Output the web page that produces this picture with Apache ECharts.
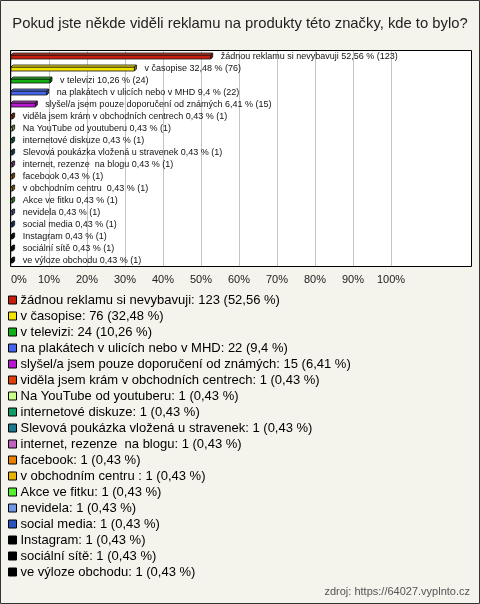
<!DOCTYPE html>
<html><head><meta charset="utf-8">
<script src="https://cdn.jsdelivr.net/npm/echarts@6/dist/echarts.min.js"></script>
<style>html,body{margin:0;padding:0;background:#f4f3ec}#c{width:480px;height:604px}</style>
</head><body><div id="c"></div>
<script>
const titleText = 'Pokud jste někde viděli reklamu na produkty této značky, kde to bylo?';
const categories = ['žádnou reklamu si nevybavuji','v časopise','v televizi','na plakátech v ulicích nebo v MHD','slyšel/a jsem pouze doporučení od známých','viděla jsem krám v obchodních centrech','Na YouTube od youtuberu','internetové diskuze','Slevová poukázka vložená u stravenek','internet, rezenze  na blogu','facebook','v obchodním centru ','Akce ve fitku','nevidela','social media','Instagram','sociální sítě','ve výloze obchodu'];
const counts = [123,76,24,22,15,1,1,1,1,1,1,1,1,1,1,1,1,1];
const percents = [52.56,32.48,10.26,9.4,6.41,0.43,0.43,0.43,0.43,0.43,0.43,0.43,0.43,0.43,0.43,0.43,0.43,0.43];
const percentLabels = ['52,56','32,48','10,26','9,4','6,41','0,43','0,43','0,43','0,43','0,43','0,43','0,43','0,43','0,43','0,43','0,43','0,43','0,43'];
const colors = ['#c61f0e','#f2e400','#12b012','#4466ee','#b818d0','#e0400c','#ccff88','#139a63','#1c7a90','#c062c0','#e88000','#e8b400','#55ee33','#6e98e4','#2a54c0','#000000','#000000','#000000'];
const xTicks = [0,10,20,30,40,50,60,70,80,90,100];
const sourceText = 'zdroj: https://64027.vyplnto.cz';

const FONT = '"Liberation Sans", Arial, sans-serif';
function shade(hex, f){
  const n = parseInt(hex.slice(1),16);
  let r=(n>>16)&255,g=(n>>8)&255,b=n&255;
  const m = v => Math.max(0,Math.min(255,Math.round(f<1 ? v*f : v+(255-v)*(f-1))));
  return 'rgb('+m(r)+','+m(g)+','+m(b)+')';
}
function renderItem(params, api){
  const v = api.value(0), idx = api.value(1);
  const p0 = api.coord([0, idx]), p1 = api.coord([v, idx]);
  const x0 = p0[0], x1 = p1[0], yc = p0[1];
  const d = 2, top = yc - 1, bot = yc + 3;
  const col = api.visual('color');
  const stroke = '#111';
  const i = params.seriesIndex;
  return {type:'group', children:[
    {type:'rect', shape:{x:x0,y:top,width:Math.max(x1-x0,0.5),height:bot-top}, style:{fill:col,stroke:stroke,lineWidth:0.8}},
    {type:'polygon', shape:{points:[[x0,top],[x0+d,top-d],[x1+d,top-d],[x1,top]]}, style:{fill:shade(col,1.12),stroke:stroke,lineWidth:0.8}},
    {type:'polygon', shape:{points:[[x1,top],[x1+d,top-d],[x1+d,bot-d],[x1,bot]]}, style:{fill:shade(col,0.6),stroke:stroke,lineWidth:0.8}},
    {type:'text', style:{x:x1+10,y:yc+0.5,text:categories[i]+' '+percentLabels[i]+' % ('+counts[i]+')',fill:'#111',font:'9px '+FONT,verticalAlign:'middle',align:'left'}}
  ]};
}
const series = categories.map((c,i)=>({
  name:c, type:'custom', renderItem, itemStyle:{color:colors[i]},
  encode:{x:0,y:1}, data:[[percents[i], i]], silent:true, clip:false
}));
const chart = echarts.init(document.getElementById('c'), null, {renderer:'canvas'});
chart.setOption({
  backgroundColor:'#f4f3ec',
  animation:false,
  title:{text:titleText,left:'center',top:11,textStyle:{fontSize:14.8,fontWeight:'normal',color:'#222',fontFamily:FONT}},
  grid:{left:11,top:50,width:380,height:216},
  xAxis:{type:'value',min:0,max:100,interval:10,
    axisLine:{show:false},axisTick:{show:false},
    splitLine:{show:true,lineStyle:{color:'#c4c4c4',width:1}},
    axisLabel:{formatter:v=>xTicks.includes(v)?v+'%':'',fontSize:11,color:'#222',fontFamily:FONT,margin:8,alignMinLabel:'left'}},
  yAxis:{type:'category',data:categories,inverse:true,show:false},
  legend:{orient:'vertical',left:8,top:292,padding:0,itemWidth:8,itemHeight:8,itemGap:0,icon:'rect',
    itemStyle:{borderColor:'#000',borderWidth:1},
    textStyle:{fontSize:13,color:'#000',fontFamily:FONT,lineHeight:16,padding:[0,0,0,-1]},
    selectedMode:false,data:categories,
    formatter:name=>{const i=categories.indexOf(name);return name+': '+counts[i]+' ('+percentLabels[i]+' %)';}},
  graphic:[
    {type:'rect',z:-10,silent:true,shape:{x:10.5,y:50.5,width:461,height:216},style:{fill:'#ffffff',stroke:null}},
    {type:'rect',z:100,silent:true,shape:{x:10.5,y:50.5,width:461,height:216},style:{fill:null,stroke:'#000',lineWidth:1}},
    {type:'rect',z:100,silent:true,shape:{x:0.5,y:0.5,width:479,height:603},style:{fill:null,stroke:'#333',lineWidth:1}},
    {type:'text',z:100,silent:true,style:{x:470,y:592,text:sourceText,align:'right',verticalAlign:'middle',font:'11px '+FONT,fill:'#555'}}
  ],
  series
});
</script></body></html>
